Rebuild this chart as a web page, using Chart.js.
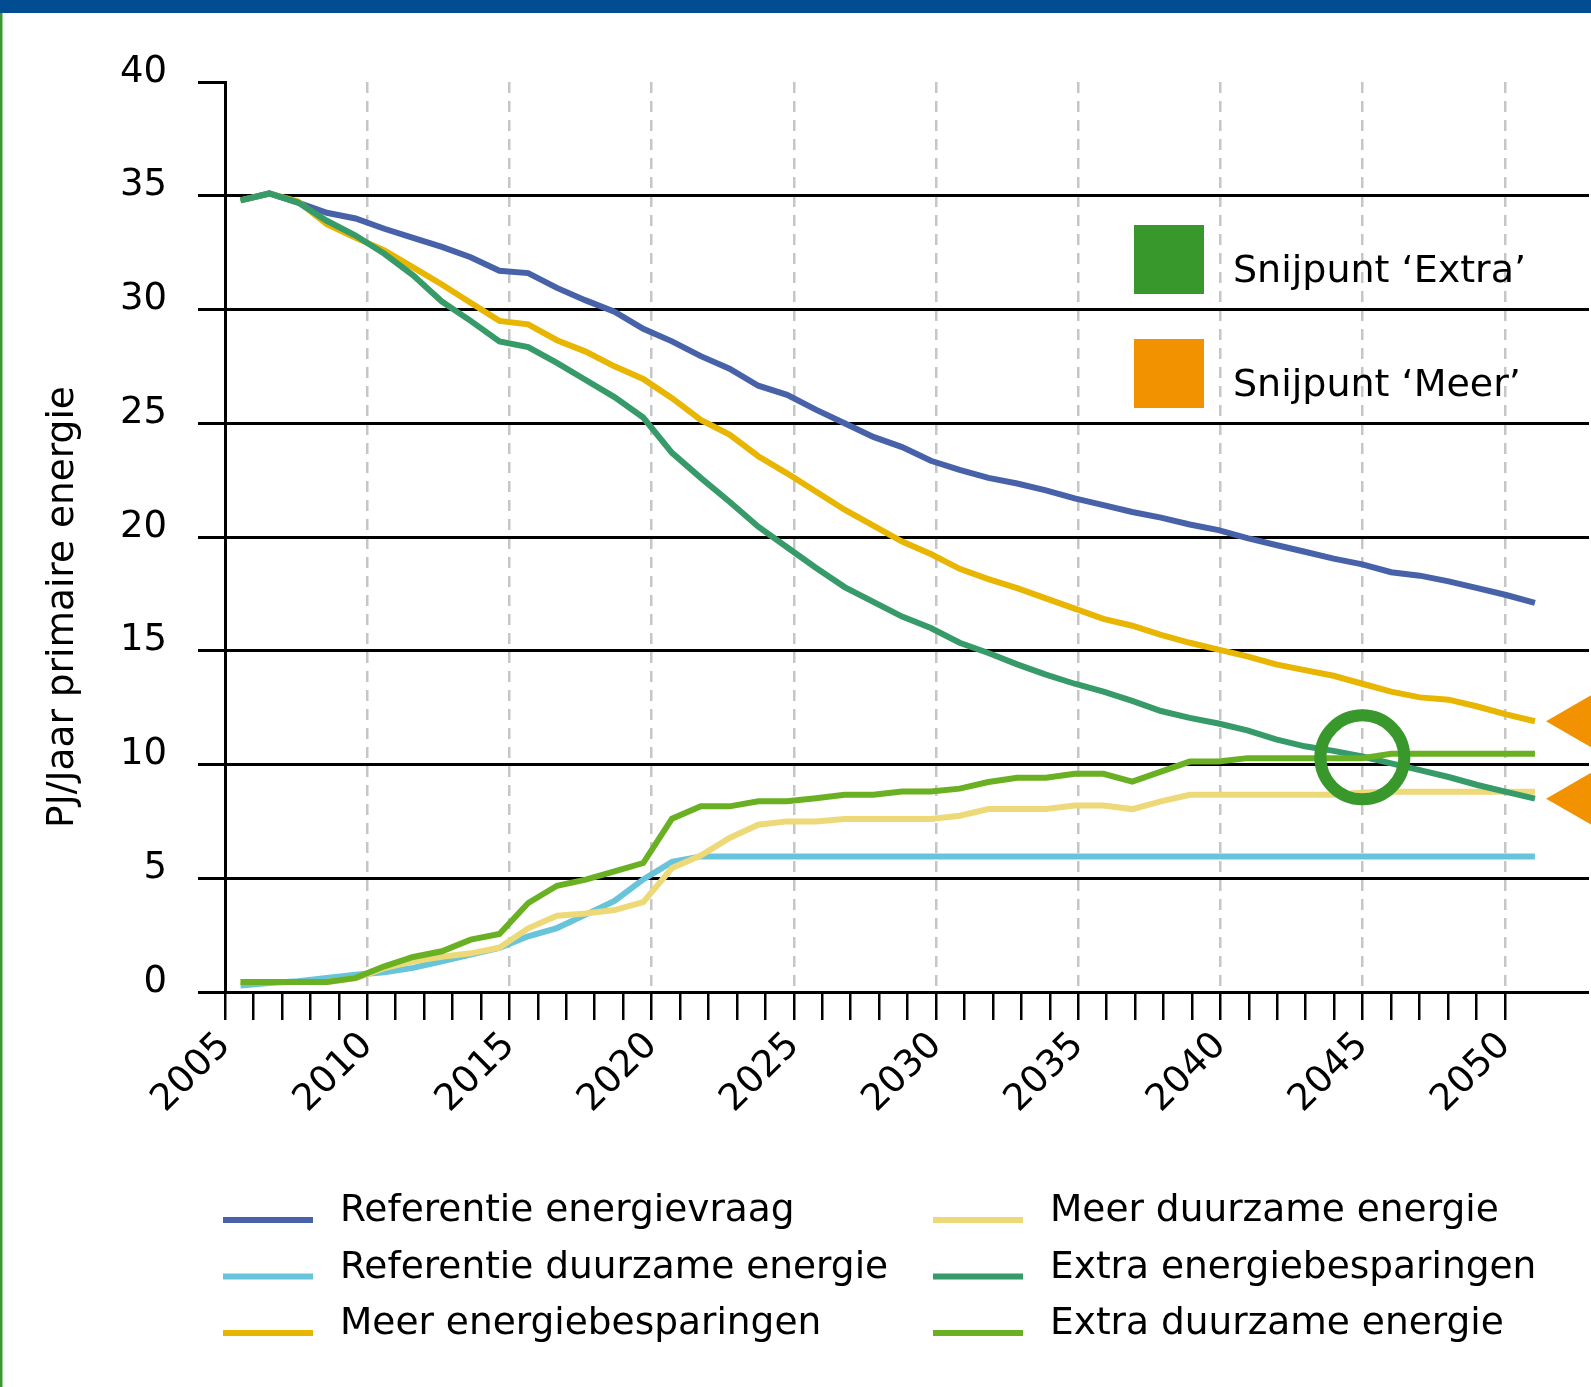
<!DOCTYPE html>
<html>
<head>
<meta charset="utf-8">
<title>PJ/Jaar primaire energie</title>
<script src="https://cdn.jsdelivr.net/npm/chart.js@4.4.1/dist/chart.umd.min.js"></script>
<style>
    html, body { margin: 0; padding: 0; background: #fff; }
    #wrap { width: 1591px; height: 1387px; }
</style>
</head>
<body>
<div id="wrap"><canvas id="grafiek" width="1591" height="1387"></canvas></div>
<script>
// Jaren van de reeksen (datapunten)
const jaren = [2006, 2007, 2008, 2009, 2010, 2011, 2012, 2013, 2014, 2015,
    2016, 2017, 2018, 2019, 2020, 2021, 2022, 2023, 2024, 2025,
    2026, 2027, 2028, 2029, 2030, 2031, 2032, 2033, 2034, 2035,
    2036, 2037, 2038, 2039, 2040, 2041, 2042, 2043, 2044, 2045,
    2046, 2047, 2048, 2049, 2050, 2051];

// Labels op de x-as
const xLabels = [2005, 2010, 2015, 2020, 2025, 2030, 2035, 2040, 2045, 2050];

// Reeksen (PJ/jaar)
const refVraag = [34.8, 35.1, 34.7, 34.25, 34.0, 33.55, 33.15, 32.75, 32.3, 31.7,
    31.6, 30.95, 30.4, 29.9, 29.15, 28.6, 27.95, 27.4, 26.65, 26.25,
    25.6, 25.0, 24.4, 23.95, 23.35, 22.95, 22.6, 22.35, 22.05, 21.7,
    21.4, 21.1, 20.85, 20.55, 20.3, 19.95, 19.65, 19.35, 19.05, 18.8,
    18.45, 18.3, 18.05, 17.75, 17.45, 17.1];
const refDuurzaam = [0.28, 0.4, 0.47, 0.62, 0.76, 0.87, 1.06, 1.35, 1.64, 1.94,
    2.45, 2.81, 3.4, 4.0, 4.95, 5.72, 5.96, 5.96, 5.96, 5.96,
    5.96, 5.96, 5.96, 5.96, 5.96, 5.96, 5.96, 5.96, 5.96, 5.96,
    5.96, 5.96, 5.96, 5.96, 5.96, 5.96, 5.96, 5.96, 5.96, 5.96,
    5.96, 5.96, 5.96, 5.96, 5.96, 5.96];
const meerBesparing = [34.8, 35.1, 34.75, 33.75, 33.15, 32.6, 31.85, 31.1, 30.3, 29.5,
    29.35, 28.65, 28.15, 27.5, 26.95, 26.1, 25.15, 24.5, 23.55, 22.8,
    22.0, 21.2, 20.5, 19.8, 19.25, 18.6, 18.15, 17.75, 17.3, 16.85,
    16.4, 16.1, 15.7, 15.35, 15.05, 14.75, 14.4, 14.15, 13.9, 13.55,
    13.2, 12.95, 12.85, 12.55, 12.2, 11.9];
const meerDuurzaam = [0.44, 0.44, 0.44, 0.44, 0.6, 1.05, 1.35, 1.55, 1.7, 1.95,
    2.8, 3.35, 3.45, 3.6, 3.95, 5.45, 6.0, 6.77, 7.35, 7.5,
    7.5, 7.6, 7.6, 7.6, 7.6, 7.75, 8.04, 8.04, 8.04, 8.2,
    8.2, 8.04, 8.38, 8.67, 8.67, 8.67, 8.67, 8.67, 8.67, 8.77,
    8.8, 8.8, 8.8, 8.8, 8.8, 8.8];
const extraBesparing = [34.8, 35.1, 34.7, 33.9, 33.25, 32.45, 31.5, 30.35, 29.5, 28.6,
    28.35, 27.65, 26.9, 26.15, 25.25, 23.7, 22.6, 21.55, 20.45, 19.55,
    18.65, 17.8, 17.15, 16.5, 16.0, 15.35, 14.9, 14.4, 13.95, 13.55,
    13.2, 12.8, 12.35, 12.05, 11.8, 11.5, 11.1, 10.8, 10.6, 10.35,
    10.05, 9.75, 9.45, 9.1, 8.8, 8.5];
const extraDuurzaam = [0.44, 0.44, 0.44, 0.44, 0.62, 1.13, 1.54, 1.79, 2.3, 2.55,
    3.91, 4.67, 4.94, 5.3, 5.67, 7.62, 8.16, 8.16, 8.38, 8.38,
    8.52, 8.67, 8.67, 8.81, 8.81, 8.94, 9.23, 9.42, 9.42, 9.59,
    9.59, 9.25, 9.69, 10.13, 10.13, 10.28, 10.28, 10.28, 10.28, 10.28,
    10.47, 10.47, 10.47, 10.47, 10.47, 10.47];

// Snijpunt 'Extra': jaar waarin besparing en duurzaam elkaar raken
const snijpuntJaar = 2045;

const FONT = '"DejaVu Sans", Verdana, sans-serif';
const ZWART = '#000';

function punten(reeks) {
    return jaren.map((jaar, i) => ({ x: jaar, y: reeks[i] }));
}

function lijn(label, reeks, kleur, volgorde) {
    return {
        label: label,
        data: punten(reeks),
        borderColor: kleur,
        backgroundColor: kleur,
        borderWidth: 6,
        pointRadius: 0,
        tension: 0,
        order: volgorde
    };
}

const iSnij = jaren.indexOf(snijpuntJaar);
const laatste = jaren.length - 1;

// Achtergrond, kaders, astitel en legenda's
const decoratie = {
    id: 'decoratie',
    beforeDraw(chart) {
        const ctx = chart.ctx;
        ctx.save();
        ctx.fillStyle = '#fff';
        ctx.fillRect(0, 0, chart.width, chart.height);
        ctx.fillStyle = '#024c92';
        ctx.fillRect(0, 0, chart.width, 13);
        ctx.fillStyle = '#3a9a32';
        ctx.fillRect(0, 13, 2.5, chart.height - 13);
        ctx.restore();
    },
    afterDraw(chart) {
        const ctx = chart.ctx;
        ctx.save();
        ctx.fillStyle = ZWART;

        // y-as titel
        ctx.save();
        ctx.font = '37.5px ' + FONT;
        ctx.translate(63, 607);
        ctx.rotate(-Math.PI / 2);
        ctx.textAlign = 'center';
        ctx.textBaseline = 'middle';
        ctx.fillText('PJ/Jaar primaire energie', 0, 0);
        ctx.restore();

        // Snijpunt-legenda
        const snij = [
            { tekst: 'Snijpunt \u2018Extra\u2019', kleur: '#38982c' },
            { tekst: 'Snijpunt \u2018Meer\u2019', kleur: '#f39200' }
        ];
        ctx.font = '38px ' + FONT;
        ctx.textAlign = 'left';
        ctx.textBaseline = 'alphabetic';
        snij.forEach((s, i) => {
            const top = 225 + i * 114;
            ctx.fillStyle = s.kleur;
            ctx.fillRect(1134, top, 70, 69);
            ctx.fillStyle = ZWART;
            ctx.fillText(s.tekst, 1233, top + 57);
        });

        // Legenda onder de grafiek (kolomsgewijs)
        ctx.font = '37.5px ' + FONT;
        const reeksen = chart.data.datasets.slice(0, 6);
        reeksen.forEach((ds, i) => {
            const kol = Math.floor(i / 3);
            const rij = i % 3;
            const x = 223 + kol * 710;
            const y = 1220 + rij * 56.5;
            ctx.fillStyle = ds.borderColor;
            ctx.fillRect(x, y - 3, 90, 6);
            ctx.fillStyle = ZWART;
            ctx.fillText(ds.label, x + 117, y + 1);
        });
        ctx.restore();
    }
};

const datasets = [
    lijn('Referentie energievraag', refVraag, '#4862a9', 5),
    lijn('Referentie duurzame energie', refDuurzaam, '#68c4da', 4),
    lijn('Meer energiebesparingen', meerBesparing, '#e8b500', 3),
    lijn('Meer duurzame energie', meerDuurzaam, '#eed979', 2),
    lijn('Extra energiebesparingen', extraBesparing, '#369a69', 1),
    lijn('Extra duurzame energie', extraDuurzaam, '#6ab023', 0),
    {
        label: 'snijpunt extra',
        data: [{ x: snijpuntJaar, y: (extraBesparing[iSnij] + extraDuurzaam[iSnij]) / 2 }],
        showLine: false,
        pointStyle: 'circle',
        pointRadius: 42,
        pointBorderWidth: 12,
        pointBorderColor: '#38982c',
        pointBackgroundColor: 'rgba(0,0,0,0)',
        clip: false,
        order: -2
    },
    {
        label: 'eindwaarden',
        data: [
            { x: jaren[laatste] + 1.5, y: meerBesparing[laatste] },
            { x: jaren[laatste] + 1.5, y: extraBesparing[laatste] }
        ],
        showLine: false,
        pointStyle: 'triangle',
        pointRotation: 270,
        pointRadius: 32,
        pointBorderWidth: 0,
        pointBackgroundColor: '#f39200',
        clip: false,
        order: -1
    }
];

// Kleine streepjes op de x-as, elk jaar
const tickJaren = [];
for (let j = xLabels[0]; j <= xLabels[xLabels.length - 1]; j++) tickJaren.push(j);

const ctx = document.getElementById('grafiek').getContext('2d');
new Chart(ctx, {
    type: 'line',
    data: { datasets: datasets },
    options: {
        responsive: false,
        animation: false,
        events: [],
        layout: { autoPadding: false, padding: { left: 0, right: 2, top: 82, bottom: 0 } },
        plugins: {
            legend: { display: false },
            tooltip: { enabled: false }
        },
        scales: {
            x: {
                type: 'linear',
                display: false,
                min: 2005.46,
                max: 2052.88
            },
            jaar: {
                type: 'linear',
                position: 'bottom',
                min: 2005,
                max: 2052.96,
                afterBuildTicks: (s) => { s.ticks = tickJaren.map(v => ({ value: v })); },
                afterFit: (s) => { s.height = 395; },
                grid: {
                    color: (c) => (c.tick && c.tick.value % 5 === 0 && c.tick.value !== xLabels[0]) ? '#c6c6c6' : 'rgba(0,0,0,0)',
                    lineWidth: 2.5,
                    drawOnChartArea: true,
                    tickLength: 28,
                    tickWidth: 2.5,
                    tickColor: ZWART,
                    tickBorderDash: []
                },
                border: { display: false, dash: [11, 8] },
                ticks: {
                    autoSkip: false,
                    maxRotation: 45,
                    minRotation: 45,
                    padding: 4,
                    color: ZWART,
                    font: { family: FONT, size: 37 },
                    callback: (v) => xLabels.includes(v) ? String(v) : ''
                }
            },
            y: {
                min: 0,
                max: 40,
                afterFit: (s) => { s.width = 225; },
                grid: {
                    color: (c) => (c.tick && c.tick.value === 40) ? 'rgba(0,0,0,0)' : ZWART,
                    lineWidth: 3,
                    tickLength: 27,
                    tickWidth: 3,
                    tickColor: ZWART
                },
                border: { display: true, color: ZWART, width: 3 },
                ticks: {
                    stepSize: 5,
                    padding: 31,
                    labelOffset: -10,
                    color: ZWART,
                    font: { family: FONT, size: 37 }
                }
            }
        }
    },
    plugins: [decoratie]
});
</script>
</body>
</html>
